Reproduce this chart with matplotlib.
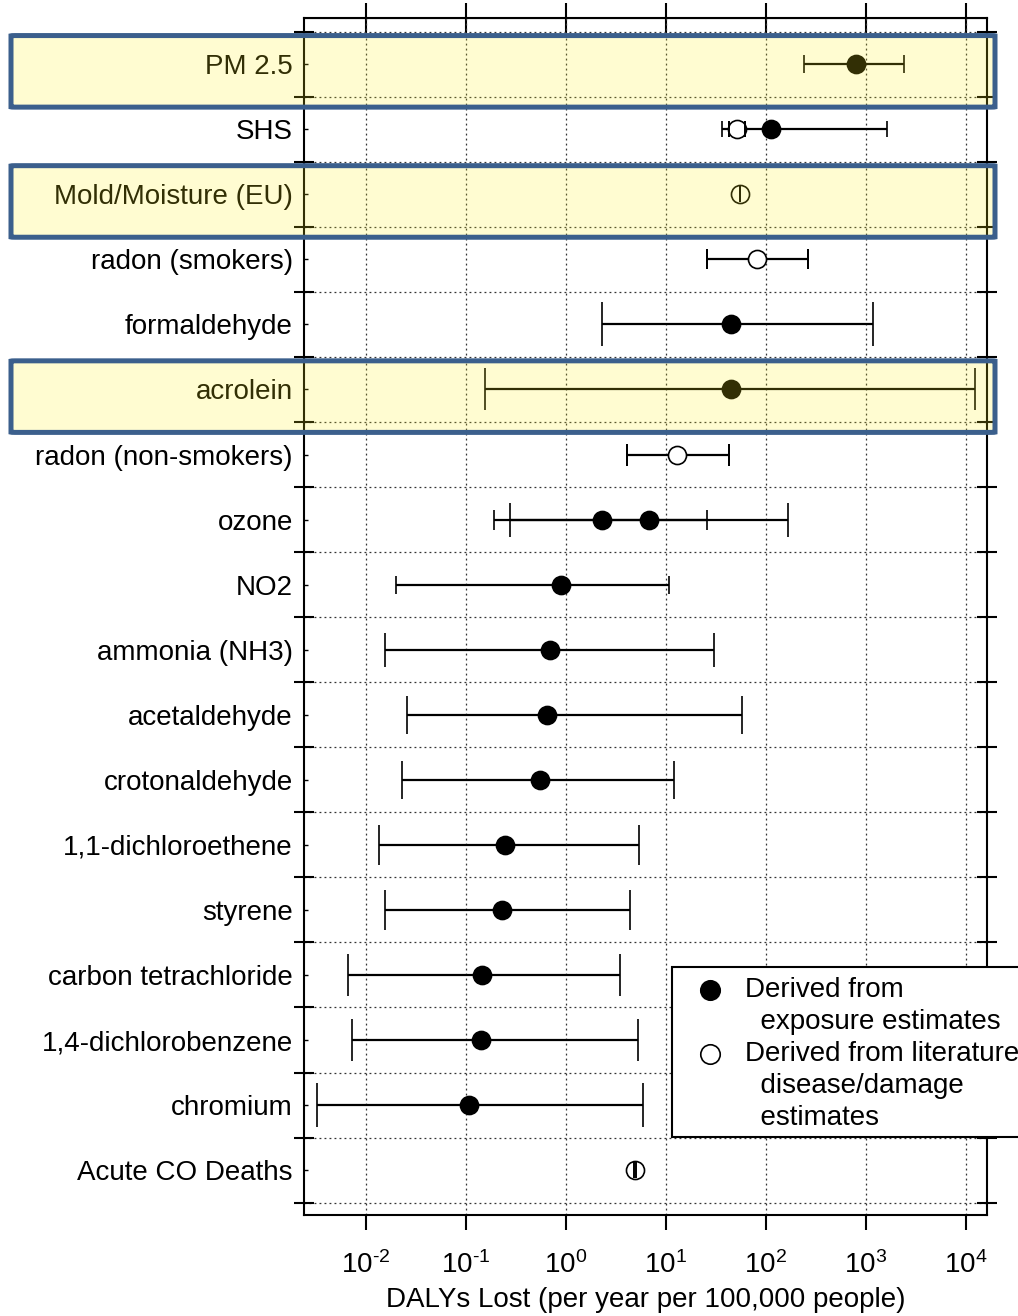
import matplotlib
matplotlib.use("Agg")
import matplotlib.pyplot as plt
from matplotlib.lines import Line2D
from matplotlib.patches import FancyBboxPatch, Rectangle
import matplotlib.transforms as mtransforms

plt.rcParams['font.family'] = ['Liberation Sans', 'DejaVu Sans']
plt.rcParams['mathtext.fontset'] = 'custom'
plt.rcParams['mathtext.rm'] = 'Liberation Sans'
plt.rcParams['mathtext.it'] = 'Liberation Sans'

# rows, top to bottom
labels = ["PM 2.5", "SHS", "Mold/Moisture (EU)", "radon (smokers)", "formaldehyde",
          "acrolein", "radon (non-smokers)", "ozone", "NO2", "ammonia (NH3)",
          "acetaldehyde", "crotonaldehyde", "1,1-dichloroethene", "styrene",
          "carbon tetrachloride", "1,4-dichlorobenzene", "chromium", "Acute CO Deaths"]
highlight = ["PM 2.5", "Mold/Moisture (EU)", "acrolein"]

# estimates: row label, central value, low, high, filled (exposure) or open (literature), cap size
est_label = ["PM 2.5", "SHS", "SHS", "Mold/Moisture (EU)", "radon (smokers)", "formaldehyde",
             "acrolein", "radon (non-smokers)", "ozone", "ozone", "NO2", "ammonia (NH3)",
             "acetaldehyde", "crotonaldehyde", "1,1-dichloroethene", "styrene",
             "carbon tetrachloride", "1,4-dichlorobenzene", "chromium", "Acute CO Deaths"]
est_value = [790, 112, 51, 55, 81, 45, 45, 13, 2.3, 6.8, 0.89, 0.69,
             0.65, 0.55, 0.245, 0.23, 0.145, 0.14, 0.107, 4.9]
est_low = [240, 36, 43, 55, 26, 2.3, 0.155, 4.1, 0.19, 0.275, 0.020, 0.0155,
           0.026, 0.023, 0.0135, 0.0155, 0.0066, 0.0072, 0.0032, 4.75]
est_high = [2400, 1620, 62, 55, 263, 1175, 12300, 43, 26, 166, 10.7, 30,
            57, 12, 5.4, 4.4, 3.5, 5.2, 5.9, 5.05]
est_filled = [True, True, False, False, False, True, True, False, True, True, True, True,
              True, True, True, True, True, True, True, False]
est_cap = [6.5, 6, 6, 6, 7.5, 16, 15, 8, 7, 12.5, 6.5, 12.5,
           14, 13.5, 14.5, 14.5, 15, 15, 16, 5.5]

legend_lines = [("Derived from", True), ("  exposure estimates", None),
                ("Derived from literature", False), ("  disease/damage", None),
                ("  estimates", None)]

fig = plt.figure(figsize=(10.18, 13.16), dpi=100)
ax = fig.add_axes([304 / 1018, 1 - 1215 / 1316, 683 / 1018, 1197 / 1316])

for lab, v, lo, hi, filled, cap in zip(est_label, est_value, est_low, est_high, est_filled, est_cap):
    y = labels.index(lab)
    ax.errorbar([v], [y], xerr=[[v - lo], [hi - v]], fmt='o', color='black',
                mfc='black' if filled else 'white', mec='black', ms=13, mew=1.2,
                elinewidth=1.6, capsize=cap, capthick=1.6, zorder=3)
    if not filled:
        # caps stay visible on top of the open circle
        ax.errorbar([v], [y], xerr=[[v - lo], [hi - v]], fmt='none', ecolor='black',
                    elinewidth=0, capsize=cap, capthick=1.4, zorder=4)

ax.set_xscale('log')
ax.set_xlim(10 ** -2.62, 10 ** 4.21)
ax.set_ylim(len(labels) - 1 + 0.69, -0.71)

xt = [10.0 ** k for k in range(-2, 5)]
ax.set_xticks(xt)
ax.set_xticklabels([r'$10^{\text{-}%d}$' % -k if k < 0 else r'$10^{%d}$' % k
                    for k in range(-2, 5)], fontsize=20)
ax.xaxis.set_minor_locator(matplotlib.ticker.NullLocator())
ax.tick_params(axis='x', which='major', direction='out', length=11, width=1.5, pad=15)
ax.set_xlabel("DALYs Lost (per year per 100,000 people)", fontsize=20)
ax.xaxis.set_label_coords(0.5, -0.0605)

rows = list(range(len(labels)))
ax.set_yticks([r - 0.5 for r in rows] + [len(labels) - 0.5])
ax.set_yticklabels([])
ax.set_yticks(rows, minor=True)
ax.set_yticklabels(labels, minor=True, fontsize=20)
ax.tick_params(axis='y', which='major', direction='inout', length=15, width=1.5,
               left=True, right=True)
ax.tick_params(axis='y', which='minor', direction='in', length=3, width=1, pad=8,
               left=True, right=False)

ax.grid(True, which='major', axis='both', linestyle=(0, (1.5, 2.5)), color='#333333', lw=0.9)
for s in ax.spines.values():
    s.set_linewidth(1.5)

# top ticks crossing the spine
topax = ax.secondary_xaxis('top')
topax.set_xticks(xt)
topax.set_xticklabels([])
topax.tick_params(direction='inout', length=22, width=1.5)
topax.xaxis.set_minor_locator(matplotlib.ticker.NullLocator())

# legend drawn by hand so the markers sit on the first line of each entry
fig.patches.append(Rectangle((672 / 1018, 1 - 1137 / 1316), 380 / 1018, 170 / 1316,
                             transform=fig.transFigure, facecolor='white',
                             edgecolor='black', lw=1.5, clip_on=False, zorder=5))
for i, (txt, filled) in enumerate(legend_lines):
    yy = 1 - (990 + 32 * i) / 1316
    fig.text(745 / 1018, yy, txt, fontsize=20, va='center', ha='left', zorder=6)
    if filled is not None:
        fig.add_artist(Line2D([710 / 1018], [yy], transform=fig.transFigure, marker='o',
                              ls='none', ms=14, mec='black', mew=1.2,
                              mfc='black' if filled else 'white', zorder=6))

# highlight boxes
trans = mtransforms.blended_transform_factory(fig.transFigure, ax.transData)
for lab in highlight:
    r = labels.index(lab)
    box = FancyBboxPatch((11 / 1018, r - 0.44), 984 / 1018, 1.1,
                         boxstyle='round,pad=0,rounding_size=0.004', transform=trans,
                         facecolor=(1.0, 0.94, 0.1, 0.2), edgecolor='#3b5f8c',
                         lw=3.6, clip_on=False, zorder=10)
    fig.patches.append(box)

fig.savefig("out.png", dpi=100)
